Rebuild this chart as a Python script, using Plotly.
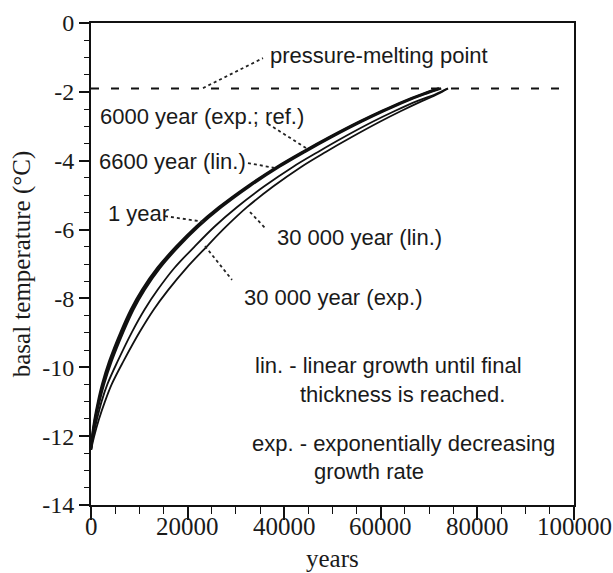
import plotly.graph_objects as go

# ---------------- data ----------------
temp_levels = [-12.4, -11.98, -11.53, -10.99, -10.49, -9.83, -8.97, -8.32, -7.75, -7.11, -6.50,
               -5.91, -5.35, -4.75, -4.18, -3.745, -3.32, -2.87, -2.55, -2.27, -2.07, -1.9]

years_6000_exp_ref = [0, 300, 800, 1600, 2500, 4000, 6400, 8500, 10800, 14000, 17800, 22000,
                      26700, 32500, 38700, 44000, 49500, 55700, 60500, 65000, 68700, 72200]
years_1_year = [0, 250, 700, 1450, 2300, 3750, 6150, 8250, 10550, 13750, 17550, 21750,
                26450, 32250, 38450, 43750, 49250, 55450, 60250, 64750, 68450, 72000]
years_6600_lin = [0, 350, 900, 1750, 2700, 4250, 6700, 8800, 11100, 14300, 18100, 22300,
                  27000, 32800, 39000, 44300, 49800, 56000, 60800, 65300, 69000, 72500]
years_30000_exp = [0, 500, 1200, 2200, 3400, 5500, 8500, 11100, 13800, 17300, 21400, 25600,
                   30200, 35800, 41800, 47000, 52300, 58300, 63000, 67500, 71300, 73900]
years_30000_lin = [0, 700, 1600, 2900, 4300, 6700, 10100, 13000, 16000, 19800, 23900, 28000,
                   32300, 37700, 43500, 48600, 53900, 59800, 64300, 68500, 71700, 73900]

pressure_melting_point = -1.9

x_tick_vals = [0, 20000, 40000, 60000, 80000, 100000]
x_tick_text = ["0", "20000", "40000", "60000", "80000", "100000"]
y_tick_vals = [0, -2, -4, -6, -8, -10, -12, -14]
y_tick_text = ["0", "-2", "-4", "-6", "-8", "-10", "-12", "-14"]

# ---------------- figure ----------------
fig = go.Figure()

fig.add_trace(go.Scatter(x=[0, 97000], y=[pressure_melting_point] * 2, mode="lines",
                         line=dict(color="#111", width=2, dash="8px,12px"),
                         hoverinfo="skip", showlegend=False))

thick = dict(color="#111", width=2.2, shape="spline", smoothing=1)
thin = dict(color="#111", width=1.8, shape="spline", smoothing=1)

fig.add_trace(go.Scatter(x=years_1_year, y=temp_levels, mode="lines", line=thick,
                         name="1 year", showlegend=False))
fig.add_trace(go.Scatter(x=years_6000_exp_ref, y=temp_levels, mode="lines", line=thick,
                         name="6000 year (exp.; ref.)", showlegend=False))
fig.add_trace(go.Scatter(x=years_6600_lin, y=temp_levels, mode="lines", line=thick,
                         name="6600 year (lin.)", showlegend=False))
fig.add_trace(go.Scatter(x=years_30000_exp, y=temp_levels, mode="lines", line=thin,
                         name="30 000 year (exp.)", showlegend=False))
fig.add_trace(go.Scatter(x=years_30000_lin, y=temp_levels, mode="lines", line=thin,
                         name="30 000 year (lin.)", showlegend=False))

sans = dict(family="Liberation Sans, Arial, sans-serif", size=22, color="#1a1a1a")

labels = [
    ("pressure-melting point", 36650, -0.93),
    ("6000 year (exp.; ref.)", 1450, -2.73),
    ("6600 year (lin.)", 1240, -4.01),
    ("1 year", 3100, -5.52),
    ("30 000 year (lin.)", 38100, -6.22),
    ("30 000 year (exp.)", 31260, -7.96),
    ("lin. - linear growth until final", 33540, -9.96),
    ("thickness is reached.", 42860, -10.78),
    ("exp. - exponentially decreasing", 32920, -12.2),
    ("growth rate", 45760, -13.04),
]
for txt, xx, yy in labels:
    fig.add_annotation(x=xx, y=yy, text=txt, showarrow=False, xanchor="left",
                       yanchor="middle", font=sans)

pointers = [
    (23190, -1.89, 35610, -1.02),
    (36650, -2.93, 44510, -3.63),
    (32500, -4.07, 38100, -4.21),
    (15320, -5.61, 23600, -5.78),
    (32920, -5.49, 36020, -5.95),
    (23600, -6.48, 29190, -7.46),
]
for x0, y0, x1, y1 in pointers:
    fig.add_shape(type="line", x0=x0, y0=y0, x1=x1, y1=y1, xref="x", yref="y",
                  line=dict(color="#222", width=1.8, dash="dot"))

serif = "Liberation Serif, Times New Roman, serif"

# x tick labels placed as annotations so they sit close under the ticks
for tv, tt in zip(x_tick_vals, x_tick_text):
    fig.add_annotation(x=tv, y=0, xref="x", yref="paper", text=tt, showarrow=False,
                       xanchor="center", yanchor="middle", yshift=-21,
                       font=dict(family=serif, size=25, color="#1a1a1a"))
fig.add_annotation(x=0.5, y=0, xref="paper", yref="paper", text="years", showarrow=False,
                   xanchor="center", yanchor="middle", yshift=-53,
                   font=dict(family=serif, size=25, color="#1a1a1a"))

fig.update_xaxes(range=[0, 100000], tickvals=x_tick_vals, showticklabels=False,
                 ticks="outside", ticklen=13, tickwidth=1.5, tickcolor="#111",
                 minor=dict(dtick=5000, ticks="outside", ticklen=7, tickwidth=1.2, tickcolor="#111"),
                 showline=True, linecolor="#111", linewidth=2, mirror=True,
                 showgrid=False, zeroline=False, automargin=False)
fig.update_yaxes(range=[-14, 0], tickvals=y_tick_vals, ticktext=y_tick_text,
                 ticks="outside", ticklen=10, tickwidth=1.5, tickcolor="#111",
                 minor=dict(dtick=0.5, ticks="outside", ticklen=5, tickwidth=1.2, tickcolor="#111"),
                 showline=True, linecolor="#111", linewidth=2, mirror=True,
                 showgrid=False, zeroline=False, automargin=False,
                 tickfont=dict(family=serif, size=24, color="#1a1a1a"),
                 title=dict(text="basal temperature (°C)",
                            font=dict(family=serif, size=25, color="#1a1a1a"), standoff=4))

fig.update_layout(width=613, height=573, margin=dict(l=91, r=39, t=23, b=68),
                  paper_bgcolor="white", plot_bgcolor="white", showlegend=False)

fig.write_html("out.html", config={"displayModeBar": False},
               post_script="document.body.style.margin='0';document.body.style.overflow='hidden';")
